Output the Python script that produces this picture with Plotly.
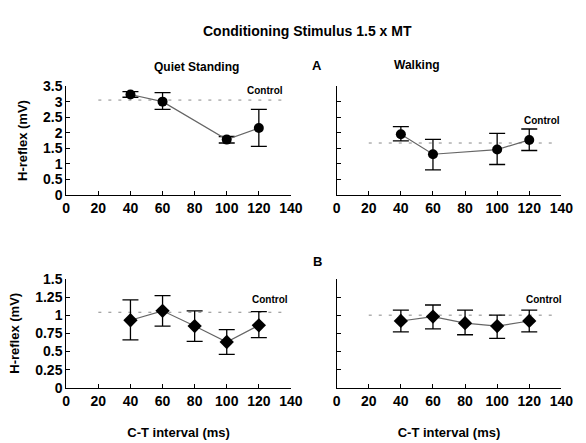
import plotly.graph_objects as go

ct = [40, 60, 100, 120]
ct_b = [40, 60, 80, 100, 120]

qs_a_mean = [3.23, 3.00, 1.78, 2.15]
qs_a_hi = [3.32, 3.29, 1.88, 2.75]
qs_a_lo = [3.14, 2.75, 1.67, 1.56]
qs_a_ctrl = 3.05

wk_a_mean = [1.95, 1.31, 1.46, 1.77]
wk_a_hi = [2.20, 1.79, 1.98, 2.12]
wk_a_lo = [1.74, 0.81, 0.98, 1.43]
wk_a_ctrl = 1.67

qs_b_mean = [0.93, 1.06, 0.85, 0.63, 0.86]
qs_b_hi = [1.21, 1.27, 1.06, 0.80, 1.05]
qs_b_lo = [0.66, 0.85, 0.64, 0.46, 0.69]
qs_b_ctrl = 1.04

wk_b_mean = [0.92, 0.98, 0.89, 0.85, 0.92]
wk_b_hi = [1.07, 1.14, 1.07, 1.00, 1.07]
wk_b_lo = [0.77, 0.81, 0.73, 0.68, 0.77]
wk_b_ctrl = 1.00

ctrl_x = [20, 135]
x_ticks = [0, 20, 40, 60, 80, 100, 120, 140]
ya_ticks = [0, 0.5, 1, 1.5, 2, 2.5, 3, 3.5]
ya_text = ["0", "0.5", "1", "1.5", "2", "2.5", "3", "3.5"]
yb_ticks = [0, 0.25, 0.5, 0.75, 1, 1.25, 1.5]
yb_text = ["0", "0.25", "0.5", "0.75", "1", "1.25", "1.5"]

FONT = "Liberation Sans"
fig = go.Figure()

panels = [
    ("x", "y", ct, qs_a_mean, qs_a_hi, qs_a_lo, qs_a_ctrl, "circle", 10, (124, 3.36)),
    ("x2", "y2", ct, wk_a_mean, wk_a_hi, wk_a_lo, wk_a_ctrl, "circle", 10, (128, 2.39)),
    ("x3", "y3", ct_b, qs_b_mean, qs_b_hi, qs_b_lo, qs_b_ctrl, "diamond", 11, (127, 1.21)),
    ("x4", "y4", ct_b, wk_b_mean, wk_b_hi, wk_b_lo, wk_b_ctrl, "diamond", 11, (129, 1.21)),
]
for xa, ya, xs, m, hi, lo, ctrl, sym, sz, lab in panels:
    fig.add_trace(go.Scatter(x=ctrl_x, y=[ctrl, ctrl], xaxis=xa, yaxis=ya, mode="lines",
                             line=dict(color="#888888", width=1, dash="3px,7px"), showlegend=False))
    fig.add_trace(go.Scatter(
        x=xs, y=m, xaxis=xa, yaxis=ya, mode="lines+markers",
        line=dict(color="#666666", width=1.2),
        marker=dict(symbol=sym, size=sz, color="black"),
        error_y=dict(type="data", symmetric=False,
                     array=[h - v for h, v in zip(hi, m)],
                     arrayminus=[v - l for v, l in zip(m, lo)],
                     color="black", thickness=1.3, width=8),
        showlegend=False))
    fig.add_annotation(x=lab[0], y=lab[1], xref=xa, yref=ya, text="<b>Control</b>", showarrow=False,
                       font=dict(family=FONT, size=10, color="black"))

xl = [64 / 586, 295 / 586]
xr = [342 / 586, 573 / 586]
yt = [1 - 194 / 443, 1 - 81 / 443]
yb = [1 - 394 / 443, 1 - 281 / 443]

tickfont = dict(family=FONT, size=14, color="black", weight="bold")
titlefont = dict(family=FONT, size=13, color="black", weight="bold")
axcommon = dict(showgrid=False, zeroline=False, showline=True, linecolor="black", linewidth=1,
                ticks="inside", ticklen=4, tickcolor="black", tickfont=tickfont)

def xaxis(domain, anchor, title=None):
    d = dict(axcommon, domain=domain, anchor=anchor, range=[0, 140], tickvals=x_ticks)
    if title:
        d["title"] = dict(text=title, font=titlefont, standoff=20)
    return d

def yaxis(domain, anchor, rng, tv, tt, labels, title=None):
    d = dict(axcommon, domain=domain, anchor=anchor, range=rng, tickvals=tv,
             ticktext=tt if labels else [""] * len(tv))
    if title:
        d["title"] = dict(text=title, font=titlefont, standoff=12)
    return d

fig.update_layout(
    width=586, height=443, margin=dict(l=0, r=0, t=0, b=0),
    paper_bgcolor="white", plot_bgcolor="white",
    xaxis=xaxis(xl, "y"), yaxis=yaxis(yt, "x", [0, 3.5], ya_ticks, ya_text, True, "H-reflex (mV)"),
    xaxis2=xaxis(xr, "y2"), yaxis2=yaxis(yt, "x2", [0, 3.5], ya_ticks, ya_text, False),
    xaxis3=xaxis(xl, "y3", "C-T interval (ms)"),
    yaxis3=yaxis(yb, "x3", [0, 1.5], yb_ticks, yb_text, True, "H-reflex (mV)"),
    xaxis4=xaxis(xr, "y4", "C-T interval (ms)"),
    yaxis4=yaxis(yb, "x4", [0, 1.5], yb_ticks, yb_text, False),
)

def label(text, x, y, size=13):
    fig.add_annotation(x=x / 586, y=1 - y / 443, xref="paper", yref="paper", text=text,
                       showarrow=False, font=dict(family=FONT, size=size, color="black"))

label("<b>Conditioning Stimulus 1.5 x MT</b>", 312, 14, 14)
label("<b>Quiet Standing</b>", 152, 52, 12)
label("<b>A</b>", 322, 50, 13)
label("<b>Walking</b>", 450, 50, 12)
label("<b>B</b>", 322, 263, 13)

fig.write_html("out.html")
